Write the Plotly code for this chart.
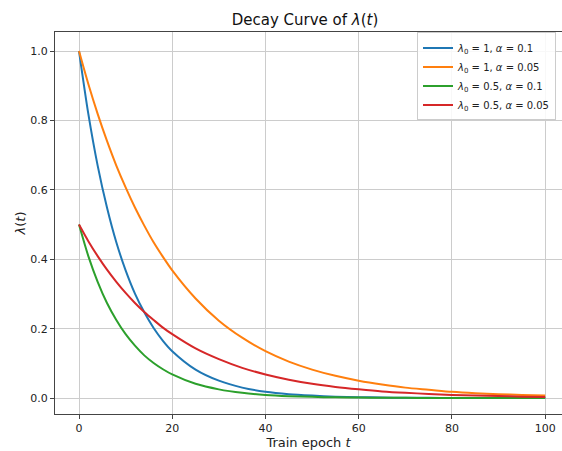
import plotly.graph_objects as go

t = [0, 2, 4, 6, 8, 10, 12, 14, 16, 18, 20, 25, 30, 35, 40, 45, 50, 55, 60, 65, 70, 75, 80, 85, 90, 95, 100]

blue = [1.0, 0.819, 0.670, 0.549, 0.449, 0.368, 0.301, 0.247, 0.202, 0.165, 0.135,
        0.082, 0.050, 0.030, 0.018, 0.011, 0.007,
        0.004, 0.0025, 0.0015, 0.0009, 0.0006, 0.0003, 0.0002, 0.0001, 0.0001, 0.0]
orange = [1.0, 0.905, 0.819, 0.741, 0.670, 0.607, 0.549, 0.497, 0.449, 0.407, 0.368,
          0.287, 0.223, 0.174, 0.135, 0.105, 0.082,
          0.064, 0.050, 0.039, 0.030, 0.024, 0.018, 0.014, 0.011, 0.009, 0.007]
green = [0.5, 0.409, 0.335, 0.274, 0.225, 0.184, 0.151, 0.123, 0.101, 0.083, 0.068,
         0.041, 0.025, 0.015, 0.009, 0.0055, 0.0034,
         0.002, 0.0012, 0.0008, 0.0005, 0.0003, 0.0002, 0.0001, 0.0001, 0.0, 0.0]
red = [0.5, 0.452, 0.409, 0.370, 0.335, 0.303, 0.274, 0.248, 0.225, 0.203, 0.184,
       0.143, 0.112, 0.087, 0.068, 0.053, 0.041,
       0.032, 0.025, 0.019, 0.015, 0.012, 0.009, 0.007, 0.006, 0.004, 0.003]

names = ["<i>λ</i><sub>0</sub> = 1, <i>α</i> = 0.1",
         "<i>λ</i><sub>0</sub> = 1, <i>α</i> = 0.05",
         "<i>λ</i><sub>0</sub> = 0.5, <i>α</i> = 0.1",
         "<i>λ</i><sub>0</sub> = 0.5, <i>α</i> = 0.05"]
colors = ["#1f77b4", "#ff7f0e", "#2ca02c", "#d62728"]
series = [blue, orange, green, red]

x_ticks = [0, 20, 40, 60, 80, 100]
y_ticks = [0.0, 0.2, 0.4, 0.6, 0.8, 1.0]

fig = go.Figure()
for nm, c, ys in zip(names, colors, series):
    fig.add_trace(go.Scatter(x=t, y=ys, mode="lines", name=nm,
                             line=dict(color=c, width=2, shape="spline", smoothing=0.8)))

font = "DejaVu Sans"
fig.update_layout(
    width=562, height=451,
    margin=dict(l=55, r=0, t=32, b=37),
    paper_bgcolor="white", plot_bgcolor="white",
    font=dict(family=font, size=11, color="#222"),
    title=dict(text="Decay Curve of <i>λ</i>(<i>t</i>)", x=305/562, xref="container",
               xanchor="center", y=1 - 20/451, yref="container", yanchor="middle",
               font=dict(size=15, family=font, color="#111")),
    showlegend=True,
    legend=dict(x=(556 - 55) / 507, y=0.999, xanchor="right", yanchor="top",
                bgcolor="rgba(255,255,255,0.85)", bordercolor="#cccccc", borderwidth=1,
                font=dict(size=10, family=font), tracegroupgap=0,
                itemwidth=30),
)
fig.update_xaxes(
    range=[-5.15, 103.6], tickvals=x_ticks, ticktext=[str(v) for v in x_ticks],
    showgrid=True, gridcolor="#cccccc", gridwidth=1, zeroline=False,
    showline=True, linecolor="#444", linewidth=1.2, mirror=True,
    ticks="outside", ticklen=4, tickcolor="#444", automargin=False,
    title=dict(text="Train epoch <i>t</i>", font=dict(size=13, family=font), standoff=3),
)
fig.update_yaxes(
    range=[-0.046, 1.055], tickvals=y_ticks, ticktext=[f"{v:.1f}" for v in y_ticks],
    showgrid=True, gridcolor="#cccccc", gridwidth=1, zeroline=False,
    showline=True, linecolor="#444", linewidth=1.2, automargin=False,
    ticks="outside", ticklen=4, tickcolor="#444",
    title=dict(text="<i>λ</i>(<i>t</i>)", font=dict(size=13, family=font), standoff=1),
)

fig.write_html("out.html", config={"displayModeBar": False},
               post_script="document.body.style.margin='0px';document.body.style.overflow='hidden';")
